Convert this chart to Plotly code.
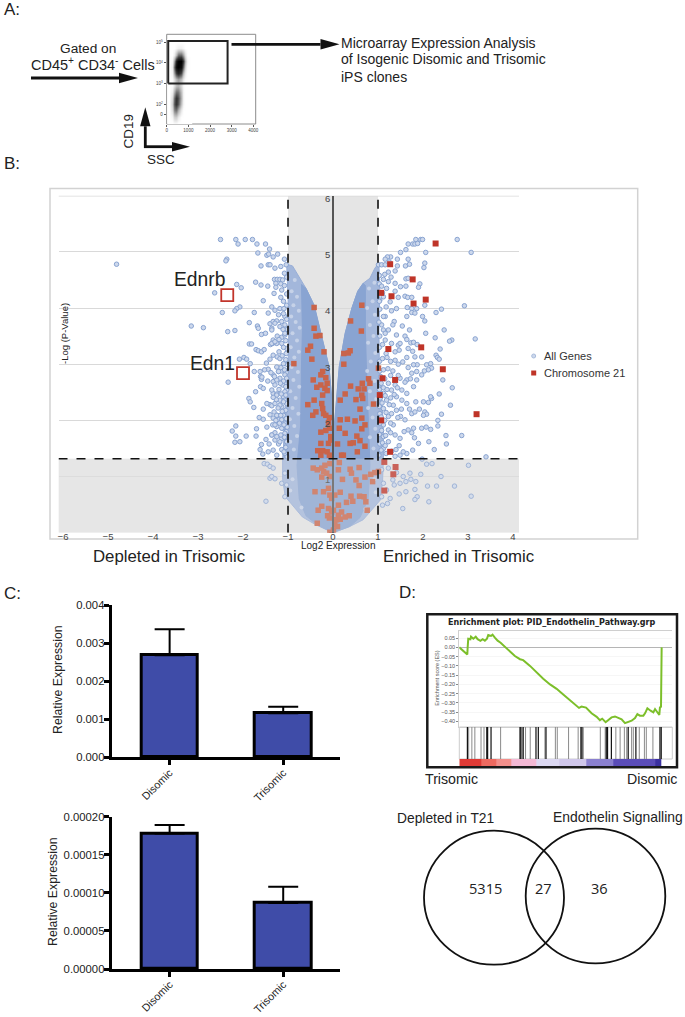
import plotly.graph_objects as go

W, H = 685, 1017

# ---------- Panel A: flow density ----------
flow_ssc = [100, 250, 350, 450, 550, 650, 750, 850, 950, 1100]
flow_cd19 = [1.1, 1.4, 1.7, 2.0, 2.3, 2.6, 2.9, 3.2, 3.5, 3.8, 4.1, 4.4, 4.7, 5.0]
flow_density = [
    [0, 0, 3, 3, 0, 0, 0, 0, 0, 0],
    [0, 4, 20, 20, 8, 0, 0, 0, 0, 0],
    [0, 14, 48, 52, 30, 8, 0, 0, 0, 0],
    [0, 20, 62, 74, 58, 22, 3, 0, 0, 0],
    [0, 15, 56, 76, 62, 28, 3, 0, 0, 0],
    [0, 7, 34, 54, 50, 24, 3, 0, 0, 0],
    [0, 2, 15, 28, 30, 14, 2, 0, 0, 0],
    [0, 2, 15, 30, 38, 26, 8, 1, 0, 0],
    [0, 5, 40, 72, 82, 64, 26, 6, 0, 0],
    [0, 8, 60, 96, 100, 92, 52, 14, 1, 0],
    [0, 4, 40, 88, 100, 100, 70, 24, 3, 0],
    [0, 0, 8, 30, 55, 55, 34, 10, 0, 0],
    [0, 0, 0, 3, 6, 6, 3, 0, 0, 0],
    [0, 0, 0, 0, 0, 0, 0, 0, 0, 0],
]
gate_x = [70, 2810, 2810, 70, 70]
gate_y = [3.0, 3.0, 5.06, 5.06, 3.0]

# ---------- Panel B: volcano ----------
cloud_outer = [(0, 0), (-.38, .14), (-.68, .28), (-.92, .5), (-1.06, .64), (-1.12, .95), (-1.12, 1.3), (-1.08, 1.8),
               (-1.05, 2.5), (-1.0, 3), (-.98, 3.6), (-1.0, 4.2), (-1.03, 4.78), (-.9, 4.75), (-.73, 4.52), (-.6, 4.35),
               (-.42, 4.05), (-.27, 3.55), (-.09, 2.96), (-.03, 2.4), (.02, 1.9), (.04, 2.0), (.08, 2.36), (.14, 2.96),
               (.27, 3.55), (.42, 4.0), (.55, 4.3), (.67, 4.44), (.82, 4.53), (.93, 4.71), (1.02, 4.8), (1.04, 4.3),
               (1.02, 3.6), (1.03, 3.0), (1.08, 2.5), (1.12, 1.8), (1.12, 1.3), (1.1, .9), (1.05, .58), (.67, .23),
               (.37, .11), (0, 0)]
cloud_inner = [(0, 0), (-.35, .14), (-.6, .3), (-.75, .6), (-.8, 1.2), (-.72, 1.9), (-.7, 3), (-.68, 3.6), (-.7, 4.42),
               (-.6, 4.35), (-.42, 4.05), (-.27, 3.55), (-.09, 2.96), (-.03, 2.4), (.02, 1.9), (.04, 2.0), (.08, 2.36),
               (.14, 2.96), (.27, 3.55), (.42, 4.0), (.55, 4.3), (.67, 4.44), (.72, 4.4), (.72, 3.6), (.74, 3),
               (.78, 1.9), (.82, 1.2), (.78, .6), (.6, .27), (.37, .11), (0, 0)]
cloud_specks = [(-.85, 4.5), (-.92, 4.3), (-.80, 4.2), (-.88, 4.05), (-.76, 3.95), (-.93, 3.85), (-.83, 3.75), (-.74, 3.65),
                (-.90, 3.55), (-.80, 3.42), (-.94, 3.30), (-.76, 3.22), (-.86, 3.12), (-.92, 2.95), (-.78, 2.86), (-.88, 2.72),
                (-.75, 2.60), (-.95, 2.52), (-.83, 2.40), (-.90, 2.22), (-.77, 2.12), (-.96, 2.02), (-.86, 1.90), (-.80, 1.72),
                (-.95, 1.62), (-.87, 1.48), (.92, 4.45), (.80, 4.35), (.88, 4.12), (.76, 4.0), (.93, 3.88), (.82, 3.70),
                (.90, 3.50), (.78, 3.38), (.94, 3.20), (.84, 3.05), (.76, 2.88), (.92, 2.70), (.82, 2.52), (.96, 2.38),
                (.78, 2.22), (.88, 2.05), (.94, 1.85), (.82, 1.70), (.90, 1.50), (-.9, .95), (-.95, .75), (.92, .95),
                (.95, .72), (-.7, .45), (.72, .42)]

genes_left = [(-4.81, 4.78), (-2.50, 5.22), (-2.16, 5.22), (-2.11, 5.14), (-1.95, 5.22), (-1.79, 5.22), (-1.69, 5.14),
              (-1.50, 5.14), (-1.41, 5.05), (-1.67, 4.98), (-1.47, 4.94), (-1.43, 4.96), (-1.33, 4.91), (-1.23, 4.96),
              (-2.36, 4.87), (-2.38, 4.84), (-1.60, 4.75), (-1.44, 4.77), (-1.40, 4.77), (-1.29, 4.71), (-1.16, 4.74),
              (-1.08, 4.87), (-1.04, 4.77), (-2.14, 4.42), (-2.04, 4.36), (-2.63, 4.27), (-1.72, 4.46), (-1.60, 4.41),
              (-1.45, 4.39), (-1.30, 4.51), (-1.24, 4.51), (-1.18, 4.51), (-1.12, 4.50), (-1.27, 4.44), (-1.16, 4.43),
              (-1.27, 4.37), (-1.14, 4.32), (-1.31, 4.26), (-1.16, 4.19), (-1.55, 4.13), (-1.36, 4.02), (-2.07, 4.02),
              (-2.14, 3.99), (-2.18, 3.95), (-2.46, 3.92), (-1.75, 3.92), (-1.44, 3.91), (-1.29, 3.96), (-1.18, 3.99),
              (-1.09, 3.99), (-1.86, 3.74), (-3.15, 3.68), (-2.88, 3.65), (-2.34, 3.58), (-2.18, 3.60), (-1.68, 3.68),
              (-1.66, 3.64), (-1.40, 3.72), (-1.33, 3.76), (-1.25, 3.77), (-1.36, 3.64), (-1.18, 3.67), (-1.07, 3.70),
              (-1.59, 3.53), (-1.24, 3.50), (-1.14, 3.48), (-1.07, 3.52), (-1.33, 3.43), (-1.25, 3.37), (-1.86, 3.36),
              (-1.81, 3.36), (-1.39, 3.35), (-1.34, 3.37), (-1.71, 3.26), (-1.66, 3.24), (-1.59, 3.22), (-1.53, 3.26),
              (-1.33, 3.16), (-1.24, 3.13), (-1.40, 3.09), (-1.04, 3.19), (-2.08, 3.09), (-1.98, 3.12), (-1.92, 3.09),
              (-1.84, 3.01), (-1.07, 3.01), (-1.01, 2.99), (-1.75, 2.87), (-1.62, 2.87), (-1.44, 2.91), (-1.61, 2.78),
              (-1.33, 2.81), (-1.21, 2.87), (-1.14, 2.88), (-1.04, 2.85), (-2.33, 2.68), (-1.59, 2.73), (-1.33, 2.69),
              (-1.72, 2.51), (-1.61, 2.60), (-1.33, 2.48), (-1.25, 2.47), (-1.87, 2.39), (-1.84, 2.33), (-1.76, 2.23),
              (-1.55, 2.20), (-1.40, 2.28), (-1.36, 2.26), (-1.29, 2.30), (-1.18, 2.36), (-1.10, 2.42), (-1.03, 2.54),
              (-1.07, 2.66), (-1.14, 2.24), (-1.24, 2.09), (-1.33, 2.04), (-1.21, 2.01), (-1.10, 2.12), (-1.64, 2.05),
              (-1.55, 2.02), (-1.34, 1.92), (-1.25, 1.89), (-1.47, 1.88), (-1.70, 1.85), (-2.16, 1.90), (-2.24, 1.81),
              (-1.71, 1.72), (-2.16, 1.72), (-1.93, 1.72), (-1.36, 1.74), (-1.29, 1.78), (-1.12, 1.86), (-1.04, 1.80),
              (-2.18, 1.61), (-2.07, 1.62), (-1.59, 1.57), (-1.29, 1.65), (-1.21, 1.58), (-1.14, 1.68), (-1.62, 1.48),
              (-1.56, 1.40), (-1.44, 1.44), (-1.33, 1.47), (-1.14, 1.48), (-1.07, 1.41), (-1.25, 1.38), (-1.53, 1.23),
              (-1.46, 1.22), (-1.40, 1.18), (-1.33, 1.15), (-1.07, 1.06), (-1.40, .97), (-1.36, 1.00), (-1.29, .96),
              (-1.14, .88), (-1.03, .85), (-1.07, .64), (-1.49, .56), (-1.18, 2.27), (-1.10, 2.09), (-1.25, 2.09),
              (-1.14, 2.01), (-1.07, 1.95), (-1.29, 1.92), (-1.14, 1.86), (-1.07, 1.77), (-1.36, 1.74), (-1.25, 1.71),
              (-1.18, 1.62), (-1.36, 3.61), (-1.29, 3.73), (-1.21, 3.88), (-1.14, 3.76), (-1.36, 3.37), (-1.29, 3.40),
              (-1.14, 3.37), (-1.07, 3.55), (-1.07, 3.85), (-1.18, 3.10), (-1.10, 3.01), (-1.21, 2.87), (-1.07, 2.81),
              (-1.18, 2.75), (-1.12, 2.63), (-1.07, 2.51), (-1.29, 2.63), (-1.36, 2.54), (-1.25, 2.45), (-1.07, 2.36),
              (-1.55, 2.57), (-1.58, 2.77),
              (-1.02, 1.35), (-1.05, 1.52), (-1.09, 1.44), (-1.03, 1.62), (-1.08, 1.70), (-1.16, 1.74), (-1.02, 1.88),
              (-1.09, 1.92), (-1.19, 1.95), (-1.27, 2.00), (-1.04, 2.03), (-1.16, 2.09), (-1.31, 2.15), (-1.05, 2.18),
              (-1.13, 2.16), (-1.22, 2.22), (-1.03, 2.30), (-1.10, 2.33), (-1.26, 2.37), (-1.33, 2.41), (-1.05, 2.45),
              (-1.15, 2.47), (-1.20, 2.55), (-1.05, 2.60), (-1.10, 2.70), (-1.17, 2.66), (-1.25, 2.72), (-1.03, 2.75),
              (-1.08, 2.90), (-1.16, 2.94), (-1.25, 2.95), (-1.05, 3.08), (-1.13, 3.15), (-1.20, 3.22), (-1.03, 3.28),
              (-1.10, 3.30), (-1.20, 3.44), (-1.05, 3.42), (-1.02, 3.62), (-1.11, 3.62), (-1.03, 3.80), (-1.10, 3.90),
              (-1.03, 4.05), (-1.10, 4.12), (-1.03, 4.25), (-1.08, 4.40), (-1.03, 4.55), (-1.08, 4.62), (-1.42, 1.58),
              (-1.49, 1.66), (-1.40, 2.10), (-1.47, 2.30), (-1.45, 2.70), (-1.52, 2.90), (-1.48, 3.02), (-1.30, 2.78),
              (-1.38, 2.85), (-1.50, 3.55)]

genes_right = [(1.84, 5.22), (1.95, 5.22), (1.99, 5.22), (2.76, 5.22), (1.67, 5.14), (1.77, 5.14), (1.82, 5.14),
               (1.88, 5.15), (1.62, 5.04), (1.50, 4.99), (2.06, 4.99), (3.07, 4.99), (1.28, 4.91), (1.21, 4.91),
               (1.16, 4.87), (1.43, 4.87), (1.67, 4.87), (1.01, 4.77), (1.08, 4.77), (1.16, 4.77), (1.25, 4.82),
               (1.43, 4.75), (1.61, 4.75), (1.70, 4.78), (2.02, 4.72), (2.04, 4.80), (1.38, 4.66), (1.23, 4.64),
               (1.29, 4.55), (1.62, 4.52), (1.67, 4.53), (1.12, 4.51), (1.03, 4.43), (1.23, 4.47), (1.38, 4.44),
               (1.50, 4.38), (1.62, 4.39), (1.93, 4.43), (1.90, 4.37), (1.08, 4.39), (1.19, 4.35), (1.38, 4.30),
               (1.60, 4.21), (1.66, 4.19), (1.75, 4.19), (1.45, 4.19), (1.12, 4.20), (1.27, 4.11), (1.04, 4.14),
               (2.04, 4.05), (2.92, 4.04), (1.41, 3.99), (1.30, 3.95), (1.65, 4.01), (1.75, 3.99), (1.86, 3.99),
               (2.41, 3.98), (2.29, 3.92), (1.75, 3.92), (1.64, 3.85), (1.82, 3.91), (1.99, 3.85), (2.04, 3.77),
               (1.16, 3.85), (1.36, 3.76), (1.33, 3.70), (1.54, 3.68), (2.47, 3.61), (1.12, 3.61), (1.23, 3.61),
               (1.08, 3.70), (1.41, 3.52), (1.70, 3.61), (2.06, 3.55), (2.27, 3.47), (2.64, 3.43), (2.59, 3.41),
               (3.16, 3.45), (1.60, 3.50), (1.64, 3.44), (1.73, 3.38), (1.79, 3.39), (1.87, 3.35), (1.45, 3.34),
               (1.49, 3.37), (1.16, 3.43), (1.30, 3.37), (1.67, 3.28), (1.77, 3.23), (2.38, 3.27), (1.38, 3.22),
               (1.18, 3.19), (1.47, 3.25), (1.97, 3.13), (1.64, 3.12), (1.82, 3.13), (2.29, 3.16), (2.32, 3.12),
               (2.36, 3.09), (1.55, 3.04), (1.45, 3.00), (1.38, 3.07), (2.08, 2.99), (2.17, 3.01), (1.87, 2.99),
               (1.79, 2.99), (1.67, 2.94), (2.19, 2.93), (2.12, 2.90), (2.03, 2.88), (1.86, 2.87), (2.44, 2.72),
               (2.65, 2.58), (2.61, 2.27), (2.41, 2.11), (1.84, 2.33), (2.01, 2.33), (2.12, 2.32), (2.19, 2.39),
               (2.36, 2.47), (2.17, 2.42), (2.04, 2.15), (2.08, 2.11), (2.01, 2.09), (2.33, 2.00), (2.33, 1.90),
               (1.97, 1.86), (2.07, 1.88), (2.17, 1.84), (1.75, 1.78), (1.81, 1.69), (2.86, 1.73), (2.51, 1.73),
               (2.52, 1.58), (2.13, 1.62), (1.90, 1.59), (2.25, 1.48), (1.77, 1.47), (1.64, 1.41), (1.49, 1.38),
               (1.38, 1.36), (1.56, 1.44), (1.79, 1.86), (1.67, 1.83), (1.60, 2.01), (1.50, 2.07), (1.75, 2.12),
               (1.82, 2.15), (1.41, 2.18), (1.34, 2.27), (1.64, 2.30), (1.53, 2.36), (1.41, 2.42), (1.64, 2.48),
               (1.30, 2.54), (1.53, 2.54), (1.79, 2.60), (1.97, 2.81), (1.86, 2.72), (1.75, 2.84), (1.49, 2.75),
               (1.64, 2.72), (1.38, 2.63), (1.23, 2.66), (1.12, 2.48), (1.19, 2.36), (1.12, 2.21), (1.23, 2.07),
               (1.12, 1.92), (1.23, 1.83), (1.34, 1.92), (1.12, 1.71), (1.23, 1.62), (1.38, 1.74), (1.49, 1.68),
               (1.12, 1.50), (1.18, 1.41), (1.04, 2.12), (1.07, 2.66), (1.98, 1.31), (2.08, 1.22), (2.20, 1.23),
               (3.01, 1.20), (3.40, 1.35), (2.40, 1.00), (1.95, 1.04), (1.71, 1.06), (1.56, 1.00), (1.41, 1.07),
               (1.33, .94), (1.36, .85), (1.49, .88), (1.62, .91), (1.73, .95), (1.84, .91), (2.10, .83), (2.30, .83),
               (2.70, .83), (1.82, .77), (1.62, .73), (1.47, .69), (1.87, .64), (1.82, .59), (3.07, .65), (1.55, .43),
               (2.13, .55), (1.21, .52), (1.10, .49), (1.27, .61), (1.08, .64), (1.19, .76), (1.12, .88), (1.08, 1.12),
               (1.23, 1.15),
               (1.02, 1.38), (1.07, 1.47), (1.04, 1.58), (1.10, 1.60), (1.16, 1.55), (1.03, 1.75), (1.08, 1.82),
               (1.17, 1.73), (1.28, 1.78), (1.04, 1.95), (1.15, 2.00), (1.28, 1.95), (1.07, 2.06), (1.18, 2.14),
               (1.30, 2.12), (1.03, 2.25), (1.09, 2.31), (1.25, 2.28), (1.44, 2.05), (1.05, 2.40), (1.16, 2.44),
               (1.28, 2.40), (1.36, 2.46), (1.03, 2.55), (1.12, 2.58), (1.20, 2.55), (1.43, 2.58), (1.06, 2.78),
               (1.15, 2.74), (1.28, 2.80), (1.04, 2.88), (1.12, 2.90), (1.22, 2.92), (1.33, 2.88), (1.45, 2.80),
               (1.60, 2.68), (1.72, 2.74), (1.03, 3.05), (1.10, 3.10), (1.28, 3.05), (1.20, 3.12), (1.03, 3.30),
               (1.10, 3.35), (1.04, 3.50), (1.16, 3.55), (1.02, 3.75), (1.12, 3.85), (1.04, 3.98), (1.18, 4.02),
               (1.03, 4.12), (1.10, 4.27), (1.03, 4.58), (1.15, 4.60), (1.52, 2.20), (1.70, 2.20), (1.92, 2.20),
               (1.58, 1.80), (1.47, 1.55), (1.40, 1.48), (1.30, 1.45)]

chr21_outer = [(2.28, 5.15), (1.27, 4.78), (1.77, 4.51), (1.07, 4.27), (1.30, 4.21), (2.06, 4.15), (1.79, 4.08),
               (1.96, 3.30), (1.23, 3.27), (2.44, 2.91), (1.10, 2.75), (1.38, 2.72), (1.04, 2.45), (3.19, 2.11),
               (1.07, 2.00), (1.27, 1.44), (1.14, 1.26), (1.39, 1.17), (1.34, 1.04), (1.14, .75)]
chr21_inner = [(-.42, 4.01), (-.42, 3.64), (-.38, 3.50), (-.29, 3.51), (-.50, 3.32), (-.56, 3.25), (-.20, 3.22),
               (-.47, 3.09), (-.87, 3.01), (-.23, 2.87), (-.27, 2.81), (-.16, 2.76), (-.44, 2.72), (-.13, 2.66),
               (-.27, 2.63), (-.36, 2.59), (-.18, 2.57), (-.13, 2.53), (-.23, 2.45), (-.42, 2.36), (-.56, 2.28),
               (-.25, 2.30), (-.23, 2.21), (-.38, 2.15), (-.45, 2.09), (-.21, 2.12), (-.16, 2.09), (-.08, 2.05),
               (-.10, 1.96), (-.08, 1.86), (-.16, 1.82), (-.27, 1.79), (-.05, 1.71), (-.10, 1.59), (-.27, 1.59),
               (-.05, 1.65), (-.34, 1.46), (-.23, 1.46), (-.27, 1.38), (-.13, 1.44), (-.08, 1.38),
               (.64, 4.05), (.39, 3.77), (.63, 3.59), (.24, 3.19), (.34, 3.20), (.38, 3.24), (.24, 3.00), (1.01, 2.93),
               (.79, 2.74), (.82, 2.66), (.65, 2.66), (.56, 2.56), (.69, 2.56), (.39, 2.61), (.27, 2.47), (.64, 2.45),
               (.66, 2.39), (.51, 2.37), (.16, 2.36), (.90, 2.29), (.60, 2.20), (.16, 2.01), (.32, 2.02), (.49, 1.99),
               (.64, 2.04), (.14, 1.86), (.71, 1.92), (.64, 1.85), (.27, 1.77), (.53, 1.72), (.60, 1.64), (.38, 1.59),
               (.45, 1.60), (.71, 1.54), (.10, 1.58), (.54, 1.44), (.23, 1.38),
               (-.44, 1.15), (-.35, 1.12), (-.25, 1.15), (-.18, 1.20), (-.07, 1.23), (-.21, 1.09), (-.14, 1.06),
               (-.25, .99), (-.07, 1.00), (-.40, .73), (-.21, .73), (-.10, .79), (-.07, .67), (-.03, .61), (-.25, .47),
               (-.33, .40), (-.10, .43), (-.12, .30), (-.08, .26), (-.03, .37), (-.35, .17), (-.07, .01), (-.03, .0),
               (.14, 1.25), (.19, 1.38), (.12, 1.12), (.38, 1.13), (.58, 1.16), (.41, 1.06), (.71, .99), (.84, 1.04),
               (.93, 1.07), (1.01, 1.09), (.21, .95), (.51, .94), (.58, .84), (.88, .91), (.16, .72), (.04, .67),
               (.40, .65), (.59, .65), (.69, .64), (.30, .54), (.44, .56), (.73, .55), (.76, .40), (.12, .49),
               (.01, .40), (.19, .37), (.12, .31), (.36, .30), (.27, .28), (.08, .23), (.16, .24), (.04, .14),
               (.10, .11), (.01, .05)]

highlighted_genes = ["Ednrb", "Edn1"]
highlighted_x = [-2.35, -2.0]
highlighted_y = [4.23, 2.84]
fold_cut = 1.0
p_cut = 1.317
volcano_xticks = [-6, -5, -4, -3, -2, -1, 0, 1, 2, 3, 4]
volcano_yticks = [1, 2, 3, 4, 5, 6]
legend_names = ["All Genes", "Chromosome 21"]

# ---------- Panel C: qPCR bars ----------
groups = ["Disomic", "Trisomic"]
edn1_means = [0.00268, 0.00116]
edn1_err = [0.00068, 0.00017]
edn1_ticks = [0.0, 0.001, 0.002, 0.003, 0.004]
ednrb_means = [0.000178, 0.0000866]
ednrb_err = [0.000011, 0.0000214]
ednrb_ticks = [0.0, 0.00005, 0.0001, 0.00015, 0.0002]

# ---------- Panel D: GSEA + Venn ----------
es_rank = [0, .0376, .039, .042, .052, .055, .066, .077, .086, .099, .11, .12, .13, .136, .149, .156, .167, .18, .194,
           .214, .238, .261, .285, .30, .332, .363, .394, .426, .457, .488, .52, .551, .562, .574, .595, .621, .645,
           .66, .671, .687, .703, .715, .731, .746, .762, .778, .793, .809, .825, .836, .848, .864, .872, .883, .898,
           .911, .919, .939, .942, .947, .95]
es_score = [0, -.038, -.005, .047, .044, .058, .047, .058, .044, .035, .044, .036, .047, .067, .062, .069, .053, .036,
            .025, .004, -.018, -.047, -.064, -.069, -.10, -.136, -.169, -.20, -.224, -.255, -.284, -.316, -.327, -.32,
            -.325, -.356, -.375, -.393, -.385, -.404, -.387, -.378, -.373, -.382, -.389, -.409, -.404, -.396, -.382,
            -.36, -.369, -.369, -.356, -.329, -.342, -.351, -.333, -.365, -.324, -.32, 0.0]
es_ticks = [0.05, 0.0, -0.05, -0.10, -0.15, -0.20, -0.25, -0.30, -0.35, -0.40]
hits_strong = [.038, .129, .133, .149, .285, .289, .300, .360, .371, .407, .571, .576, .690, .696, .714, .793, .829,
               .942, .948]
hits_weak = [.044, .059, .073, .102, .116, .194, .295, .311, .333, .402, .451, .460, .513, .558, .582, .662, .685,
             .735, .755, .775, .786, .809, .817, .845, .869, .878, .909]
heat_edges = [0, .105, .175, .243, .363, .47, .598, .723, .919, .95, 1]
heat_values = [1.0, .8, .6, .3, -.1, -.22, -.5, -.75, -1.0, None]
venn_counts = ["5315", "27", "36"]
venn_sets = ["Depleted in T21", "Endothelin Signalling"]

# ---------- helpers ----------
SANS = "Liberation Sans"


def dom_x(a, b):
    return [a / W, b / W]


def dom_y(top, bottom):
    return [1 - bottom / H, 1 - top / H]


def px(x):
    return x / W


def py(y):
    return 1 - y / H


annotations = []
shapes = []


def label(text, x, y, size, anchor="center", color="#222", font=SANS, angle=0, bold=False):
    annotations.append(dict(text=f"<b>{text}</b>" if bold else text, x=px(x), y=py(y), xref="paper", yref="paper",
                            xanchor=anchor, yanchor="middle", showarrow=False, textangle=angle,
                            font=dict(family=font, size=size, color=color)))


def arrow(x0, y0, x1, y1, head=19, half=5.2):
    # straight shaft plus filled head, horizontal or vertical
    dx = (x1 > x0) - (x1 < x0)
    dy = (y1 > y0) - (y1 < y0)
    bx, by = x1 - dx * head, y1 - dy * head
    shapes.append(dict(type="line", xref="paper", yref="paper", x0=px(x0), y0=py(y0), x1=px(bx), y1=py(by),
                       line=dict(color="#111", width=2.8), layer="above"))
    p = [(bx - dy * half, by - dx * half), (bx + dy * half, by + dx * half), (x1, y1)]
    path = "M" + " L".join(f"{px(a):.5f},{py(b):.5f}" for a, b in p) + " Z"
    shapes.append(dict(type="path", xref="paper", yref="paper", path=path, fillcolor="#111", line_width=0, layer="above"))


def unzip(pts):
    return [p[0] for p in pts], [p[1] for p in pts]


fig = go.Figure()

# Panel A
fig.add_trace(go.Heatmap(x=flow_ssc, y=flow_cd19, z=flow_density, zsmooth="best", zmin=0, zmax=100, showscale=False,
                         colorscale=[[0, "#ffffff"], [.3, "#b5b5b5"], [.7, "#3a3a3a"], [1, "#000000"]],
                         xaxis="x2", yaxis="y2", hoverinfo="skip"))
fig.add_trace(go.Scatter(x=gate_x, y=gate_y, mode="lines", line=dict(color="#222", width=2), xaxis="x2", yaxis="y2",
                         showlegend=False))

# Panel B
ox, oy = unzip(cloud_outer)
ix, iy = unzip(cloud_inner)
fig.add_trace(go.Scatter(x=ox, y=oy, mode="lines", fill="toself", fillcolor="#a3b7db", line=dict(color="#98aed7", width=1),
                         showlegend=False, hoverinfo="skip"))
fig.add_trace(go.Scatter(x=ix, y=iy, mode="lines", fill="toself", fillcolor="#89a4d2", line=dict(color="#89a4d2", width=1),
                         showlegend=False, hoverinfo="skip"))
sx, sy = unzip(cloud_specks)
fig.add_trace(go.Scatter(x=sx, y=sy, mode="markers", marker=dict(size=4, color="#c6d2e8"), showlegend=False, hoverinfo="skip"))
gx, gy = unzip(genes_left + genes_right)
fig.add_trace(go.Scatter(x=gx, y=gy, mode="markers", name=legend_names[0], showlegend=False,
                         marker=dict(symbol="circle", size=4.5, color="#cdd8ec", line=dict(color="#88a3d1", width=1))))
cx, cy = unzip(chr21_inner)
fig.add_trace(go.Scatter(x=cx, y=cy, mode="markers", marker=dict(symbol="square", size=5.5, color="#c9644a"),
                         showlegend=False))
cx, cy = unzip(chr21_outer)
fig.add_trace(go.Scatter(x=cx, y=cy, mode="markers", name=legend_names[1], showlegend=False,
                         marker=dict(symbol="square", size=6, color="#bf3428")))
fig.add_trace(go.Scatter(x=highlighted_x, y=highlighted_y, mode="markers", text=highlighted_genes, showlegend=False,
                         marker=dict(symbol="square-open", size=12, color="#c2352b", line=dict(color="#c2352b", width=1.8))))

# Panel C
for means, errs, xa, ya in [(edn1_means, edn1_err, "x3", "y3"), (ednrb_means, ednrb_err, "x4", "y4")]:
    fig.add_trace(go.Bar(x=groups, y=means, width=.5, xaxis=xa, yaxis=ya, showlegend=False,
                         marker=dict(color="#3f4ca8", line=dict(color="#000", width=3)),
                         error_y=dict(type="data", symmetric=False, array=errs, arrayminus=[0, 0], color="#000",
                                      thickness=2, width=15)))

# Panel D
fig.add_trace(go.Scatter(x=es_rank, y=es_score, mode="lines", line=dict(color="#7cbf2a", width=2), xaxis="x5", yaxis="y5",
                         showlegend=False))
fig.add_trace(go.Scatter(x=hits_weak, y=[.5] * len(hits_weak), mode="markers", xaxis="x6", yaxis="y6", showlegend=False,
                         marker=dict(symbol="line-ns", size=30, line=dict(color="#8a8a8a", width=1))))
fig.add_trace(go.Scatter(x=hits_strong, y=[.5] * len(hits_strong), mode="markers", xaxis="x6", yaxis="y6", showlegend=False,
                         marker=dict(symbol="line-ns", size=30, line=dict(color="#111", width=1.2))))
fig.add_trace(go.Heatmap(x=heat_edges, y=[0, 1], z=[heat_values], xaxis="x7", yaxis="y7", showscale=False, zmin=-1, zmax=1,
                         colorscale=[[0, "#3a30a0"], [.125, "#5a4cb8"], [.25, "#8a80cf"], [.39, "#cfc6ea"], [.45, "#dcd8f2"],
                                     [.65, "#f3b8d4"], [.8, "#f3908c"], [.9, "#ee6a60"], [1, "#e03a35"]],
                         hoverinfo="skip"))

# Shapes: volcano bands, thresholds, frames, Venn
shapes += [
    dict(type="rect", xref="x", yref="y", x0=-6.1, x1=4.133, y0=0, y1=p_cut, fillcolor="#e6e6e6", line_width=0, layer="below"),
    dict(type="rect", xref="x", yref="y", x0=-fold_cut, x1=fold_cut, y0=0, y1=6, fillcolor="#e5e5e5", line_width=0, layer="below"),
    dict(type="rect", xref="x", yref="y", x0=-6.1, x1=4.133, y0=0, y1=p_cut, fillcolor="rgba(232,232,232,.25)", line_width=0, layer="above"),
    dict(type="line", xref="x", yref="y", x0=-6.1, x1=4.133, y0=6, y1=6, line=dict(color="#d9d9d9", width=1.4), layer="below"),
    dict(type="line", xref="x", yref="y", x0=-fold_cut, x1=-fold_cut, y0=0, y1=6, line=dict(color="#111", width=1.6, dash="dash"), layer="above"),
    dict(type="line", xref="x", yref="y", x0=fold_cut, x1=fold_cut, y0=0, y1=6, line=dict(color="#111", width=1.6, dash="dash"), layer="above"),
    dict(type="line", xref="x", yref="y", x0=-6.1, x1=4.133, y0=p_cut, y1=p_cut, line=dict(color="#111", width=1.6, dash="dash"), layer="above"),
    dict(type="rect", xref="paper", yref="paper", x0=px(50), x1=px(637.7), y0=py(539), y1=py(188.5), line=dict(color="#d2d2d2", width=1.5), layer="below"),
    dict(type="rect", xref="paper", yref="paper", x0=px(166.7), x1=px(255.7), y0=py(124), y1=py(34.3), line=dict(color="#8c8c8c", width=1), layer="below"),
    dict(type="rect", xref="paper", yref="paper", x0=px(427.3), x1=px(677), y0=py(767.3), y1=py(614.3), line=dict(color="#1a1a1a", width=2.5), layer="above"),
    dict(type="rect", xref="paper", yref="paper", x0=px(459.3), x1=px(672.3), y0=py(759), y1=py(727), line=dict(color="#cccccc", width=1), layer="below"),
    dict(type="circle", xref="paper", yref="paper", x0=px(424), x1=px(564), y0=py(964.7), y1=py(830.7), line=dict(color="#111", width=1.8)),
    dict(type="circle", xref="paper", yref="paper", x0=px(525.7), x1=px(665.3), y0=py(963.3), y1=py(828.7), line=dict(color="#111", width=1.8)),
    dict(type="circle", xref="paper", yref="paper", x0=px(531.7), x1=px(535.7), y0=py(358), y1=py(354), fillcolor="#cdd8ec", line=dict(color="#a9bcdc", width=1)),
    dict(type="rect", xref="paper", yref="paper", x0=px(531.2), x1=px(536.2), y0=py(375.5), y1=py(370.5), fillcolor="#bf3428", line_width=0),
]

# Text
label("A:", 2, 10, 17, "left")
label("B:", 2, 163, 17, "left")
label("C:", 2, 593, 17, "left")
label("D:", 397, 592, 17, "left")
label("Gated on", 88, 48, 13.7)
label("CD45<sup>+</sup> CD34<sup>-</sup> Cells", 93.5, 64, 14.5)
label("Microarray Expression Analysis", 338.5, 42.7, 14, "left")
label("of Isogenic Disomic and Trisomic", 338.5, 59.3, 14, "left")
label("iPS clones", 338.5, 76.7, 14, "left")
label("CD19", 128, 130.5, 13.5, angle=-90)
label("SSC", 161, 160, 13.5)
label("Ednrb", 200, 280, 19.3)
label("Edn1", 212, 363, 19.3)
label("-Log (P-Value)", 64, 333, 9.5, angle=-90)
label("Log2 Expression", 338, 545, 10)
label("Depleted in Trisomic", 169, 556, 16.8)
label("Enriched in Trisomic", 458.5, 556, 16.8)
label(legend_names[0], 542, 356, 11, "left", color="#333")
label(legend_names[1], 542, 373, 11, "left", color="#333")
label("Relative Expression", 58, 680, 12.3, angle=-90)
label("Relative Expression", 53, 892, 12.3, angle=-90)
label("Enrichment plot: PID_Endothelin_Pathway.grp", 552, 622.7, 8.05, font="DejaVu Sans", bold=True)
label("Enrichment score (ES)", 436.7, 678, 5.5, color="#555", angle=-90)
label("Trisomic", 451.7, 779, 14.2)
label("Disomic", 652, 779, 14.2)
label(venn_sets[0], 445, 818, 13.8)
label(venn_sets[1], 618, 817, 13.9)
label(venn_counts[0], 485, 888, 14.6, font="Open Sans")
label(venn_counts[1], 543, 888, 14.6, font="Open Sans")
label(venn_counts[2], 599, 888, 14.6, font="Open Sans")

arrow(31, 78, 138, 78)
arrow(231.5, 44.3, 339.5, 44.3)
arrow(145.3, 148, 145.3, 107.3)
arrow(144, 146.7, 190, 146.7, head=18, half=4.8)

bar_axis = dict(showline=True, linecolor="#000", linewidth=3, ticks="outside", tickcolor="#000", tickwidth=2.5, ticklen=5,
                showgrid=False, zeroline=False, tickfont=dict(family=SANS, size=11.3, color="#222"))
bar_xaxis = dict(bar_axis, tickangle=-45, ticklabelstandoff=-3, tickfont=dict(family=SANS, size=10.8, color="#222"))
bar_yaxis = dict(bar_axis, ticklabelstandoff=-3)
tiny = dict(family=SANS, size=4.5, color="#444")

fig.update_layout(
    width=W, height=H, margin=dict(l=0, r=0, t=0, b=0, autoexpand=False), paper_bgcolor="white", plot_bgcolor="rgba(0,0,0,0)",
    font=dict(family=SANS), shapes=shapes, annotations=annotations, bargap=0, showlegend=False,
    # volcano
    xaxis=dict(domain=dom_x(58.5, 519), range=[-6.1, 4.133], tickvals=volcano_xticks, showgrid=False, zeroline=False,
               tickfont=dict(family=SANS, size=9.5, color="#444"), ticks="", ticklabelstandoff=-3, showline=False),
    yaxis=dict(domain=dom_y(195.7, 532.7), range=[0, 6], tickvals=volcano_yticks, anchor="free", position=px(333),
               showgrid=True, gridcolor="#d9d9d9", gridwidth=1.4, zeroline=False, showline=True, linecolor="#555",
               linewidth=1.5, ticks="", tickfont=dict(family=SANS, size=9.5, color="#444"), ticklabelshift=3, layer="above traces"),
    # flow
    xaxis2=dict(domain=dom_x(166.7, 255.7), range=[0, 4108], anchor="y2", tickvals=[0, 1000, 2000, 3000, 4000], tickfont=tiny,
                showgrid=False, zeroline=False, ticks="outside", ticklen=2, tickwidth=.6, tickcolor="#555"),
    yaxis2=dict(domain=dom_y(34.3, 124), range=[1.05, 5.38], anchor="x2", tickvals=[1.52, 2, 3, 4, 5],
                ticktext=["0", "10<sup>2</sup>", "10<sup>3</sup>", "10<sup>4</sup>", "10<sup>5</sup>"], tickfont=tiny,
                showgrid=False, zeroline=False, ticks="outside", ticklen=2, tickwidth=.6, tickcolor="#555"),
    # bars
    xaxis3=dict(bar_xaxis, domain=dom_x(111.7, 340), range=[-.51, 1.5], anchor="y3"),
    yaxis3=dict(bar_yaxis, domain=dom_y(605, 757.3), range=[0, .004], anchor="x3", tickvals=edn1_ticks, tickformat=".3f"),
    xaxis4=dict(bar_xaxis, domain=dom_x(111.7, 340), range=[-.51, 1.5], anchor="y4"),
    yaxis4=dict(bar_yaxis, domain=dom_y(816.7, 969), range=[0, .0002], anchor="x4", tickvals=ednrb_ticks, tickformat=".5f"),
    # ES
    xaxis5=dict(domain=dom_x(459.3, 672.3), range=[0, 1], anchor="y5", showticklabels=False, ticks="", showgrid=False,
                zeroline=False, showline=True, linecolor="#cfcfcf", mirror=True),
    yaxis5=dict(domain=dom_y(630.7, 727), range=[-.43, .09], anchor="x5", tickvals=es_ticks, tickformat=".2f",
                tickfont=dict(family=SANS, size=5.5, color="#555"), gridcolor="#f6f6f6", showgrid=True, zeroline=True,
                zerolinecolor="#b5b5b5", zerolinewidth=1, ticks="outside", ticklen=2, tickwidth=.6, tickcolor="#888",
                showline=True, linecolor="#cfcfcf"),
    xaxis6=dict(domain=dom_x(459.3, 672.3), range=[0, 1], anchor="y6", visible=False),
    yaxis6=dict(domain=dom_y(727, 759), range=[0, 1], anchor="x6", visible=False),
    xaxis7=dict(domain=dom_x(459.3, 672.3), range=[0, 1], anchor="y7", visible=False),
    yaxis7=dict(domain=dom_y(759, 767), range=[0, 1], anchor="x7", visible=False),
)

fig.write_html("out.html", config=dict(displayModeBar=False),
               post_script="document.body.style.margin='0';document.documentElement.style.overflow='hidden';")
